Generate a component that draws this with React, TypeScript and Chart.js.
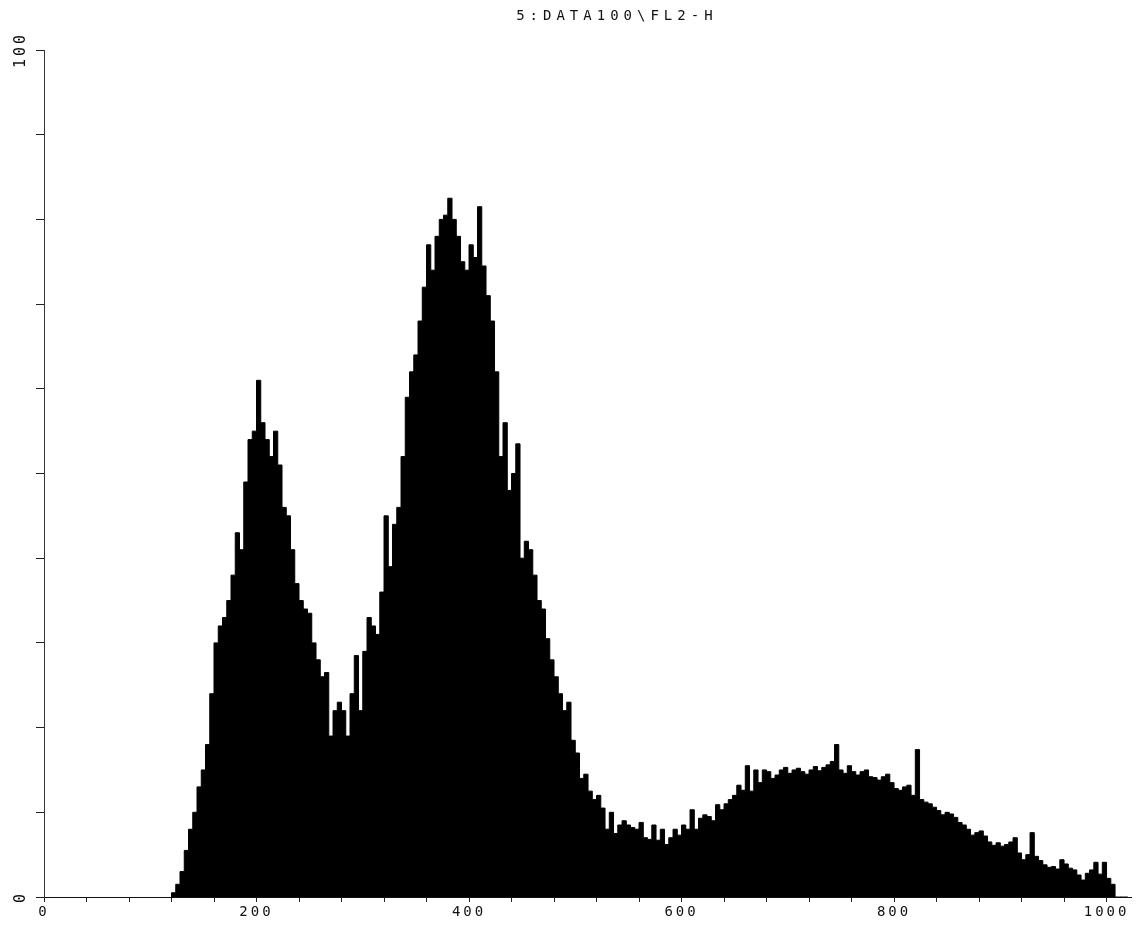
import React, { useEffect, useRef } from 'react';
import { Chart, registerables } from 'chart.js';

Chart.register(...registerables);

// ---- data ----
const TITLE = '5:DATA100\\FL2-H';
const X_LABEL_VALUES = [0, 200, 400, 600, 800, 1000];
const Y_LABEL_VALUES = [0, 100];
const X_MAX = 1023;
const Y_MAX = 100;
const X_TICK_STEP = 40;
const X_TICK_LAST = 1000;
const FIRST_CHANNEL = 120;
const BIN = 4;
// event counts per 4-channel bin, starting at channel 120
const counts = [
  0, 0.5, 1.5, 3, 5.5, 8, 10, 13, 15, 18,
  24, 30, 32, 33, 35, 38, 43, 41, 49, 54,
  55, 61, 56, 54, 52, 55, 51, 46, 45, 41,
  37, 35, 34, 33.5, 30, 28, 26, 26.5, 19, 22,
  23, 22, 19, 24, 28.5, 22, 29, 33, 32, 31,
  36, 45, 39, 44, 46, 52, 59, 62, 64, 68,
  72, 77, 74, 78, 80, 80.5, 82.5, 80, 78, 75,
  74, 77, 75.5, 81.5, 74.5, 71, 68, 62, 52, 56,
  48, 50, 53.5, 40, 42, 41, 38, 35, 34, 30.5,
  28, 26, 24, 22, 23, 18.5, 17, 14, 14.5, 12.5,
  11.5, 12, 10.5, 8, 10, 7.5, 8.5, 9, 8.5, 8.2,
  8, 8.8, 7, 6.8, 8.5, 6.7, 8, 6.2, 7, 8,
  7.3, 8.5, 8, 10.3, 8, 9.3, 9.7, 9.5, 9, 10.9,
  10.3, 11, 11.5, 12, 13.2, 12.6, 15.5, 12.5, 15, 13.5,
  15, 14.8, 14, 14.4, 15, 15.3, 14.6, 15, 15.2, 14.8,
  14.5, 15, 15.4, 14.9, 15.3, 15.6, 16, 18, 15, 14.6,
  15.5, 14.8, 14.4, 14.8, 15, 14.2, 14.1, 13.8, 14.2, 14.5,
  13.5, 12.8, 12.6, 13, 13.2, 12, 17.4, 11.5, 11.2, 11,
  10.6, 10.2, 9.7, 10, 9.8, 9.4, 8.8, 8.5, 8, 7.3,
  7.6, 7.8, 7.2, 6.5, 6.1, 6.4, 6, 6.2, 6.5, 7,
  5.2, 4.4, 5, 7.6, 4.8, 4.3, 3.8, 3.5, 3.6, 3.3,
  4.4, 3.9, 3.4, 3.2, 2.6, 2, 2.8, 3.2, 4.1, 2.7,
  4.1, 2.2, 1.5, 0, 0, 0,
];

const MONO = "'DejaVu Sans Mono', monospace";

const spacingPlugin = {
  id: 'letterSpacing',
  beforeDraw(chart: any) {
    (chart.ctx as any).letterSpacing = '3px';
  },
  afterDraw(chart: any) {
    (chart.ctx as any).letterSpacing = '0px';
  },
};

const titlePlugin = {
  id: 'scanTitle',
  afterDraw(chart: any) {
    const { ctx, chartArea } = chart;
    ctx.save();
    ctx.font = `14px ${MONO}`;
    (ctx as any).letterSpacing = '5px';
    ctx.fillStyle = '#111';
    ctx.textAlign = 'center';
    ctx.textBaseline = 'middle';
    const cx = chartArea.left + (chartArea.right - chartArea.left) * 0.527;
    ctx.fillText(TITLE, cx, 16);
    ctx.restore();
  },
};

export default function App() {
  const ref = useRef<HTMLCanvasElement | null>(null);

  useEffect(() => {
    if (!ref.current) return;
    const points = counts.map((c, i) => ({ x: FIRST_CHANNEL + i * BIN, y: c }));
    const xTickValues: number[] = [];
    for (let v = 0; v <= X_TICK_LAST; v += X_TICK_STEP) xTickValues.push(v);
    const chart = new Chart(ref.current, {
      type: 'line',
      data: {
        datasets: [
          {
            data: points,
            stepped: 'after',
            fill: 'origin',
            backgroundColor: '#000',
            borderColor: '#000',
            borderWidth: 1,
            pointRadius: 0,
          },
        ],
      },
      options: {
        animation: false,
        responsive: false,
        events: [],
        layout: { padding: { top: 50, right: 6, left: 0, bottom: 0 } },
        plugins: { legend: { display: false }, tooltip: { enabled: false }, title: { display: false } },
        scales: {
          x: {
            type: 'linear',
            min: 0,
            max: X_MAX,
            afterFit: (s: any) => { s.height = 28; },
            afterBuildTicks: (s: any) => { s.ticks = xTickValues.map((v) => ({ value: v })); },
            ticks: {
              autoSkip: false,
              maxRotation: 0,
              minRotation: 0,
              padding: 2,
              color: '#111',
              font: { family: MONO, size: 14 },
              callback: (v: any) => (X_LABEL_VALUES.includes(Number(v)) ? String(v) : ''),
            },
            grid: { drawOnChartArea: false, tickLength: 5, color: '#222', tickWidth: 1 },
            border: { color: '#111', width: 1 },
          },
          y: {
            type: 'linear',
            min: 0,
            max: Y_MAX,
            afterFit: (s: any) => { s.width = 44; },
            ticks: {
              stepSize: 10,
              autoSkip: false,
              minRotation: 90,
              maxRotation: 90,
              crossAlign: 'center',
              padding: 1,
              color: '#111',
              font: { family: MONO, size: 15 },
              callback: (v: any) => (Y_LABEL_VALUES.includes(Number(v)) ? String(v) : ''),
            },
            grid: { drawOnChartArea: false, tickLength: 8, color: '#222', tickWidth: 1 },
            border: { color: '#333', width: 1, dash: [2, 2] },
          },
        },
      },
      plugins: [spacingPlugin, titlePlugin],
    });
    return () => chart.destroy();
  }, []);

  return (
    <div style={{ position: 'fixed', left: 0, top: 0, width: 1137, height: 925, background: '#fff' }}>
      <canvas ref={ref} width={1137} height={925} style={{ display: 'block' }} />
    </div>
  );
}
